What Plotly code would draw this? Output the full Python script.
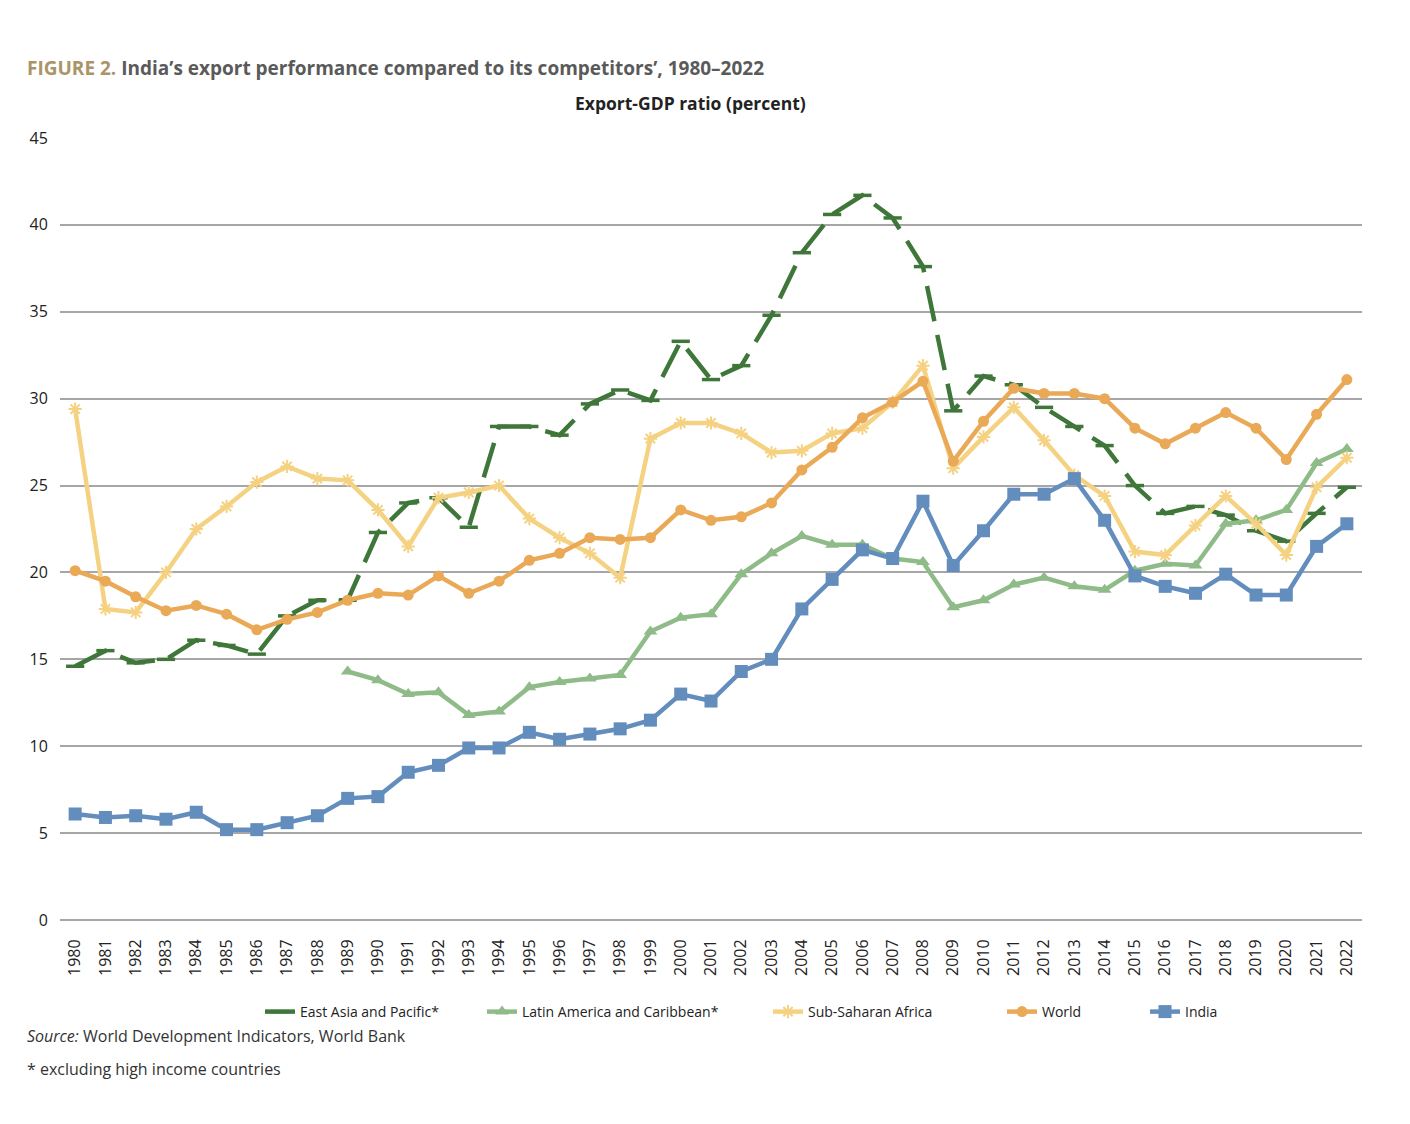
import plotly.graph_objects as go

years = list(range(1980, 2023))

india = [6.1, 5.9, 6.0, 5.8, 6.2, 5.2, 5.2, 5.6, 6.0, 7.0, 7.1, 8.5, 8.9, 9.9, 9.9,
         10.8, 10.4, 10.7, 11.0, 11.5, 13.0, 12.6, 14.3, 15.0, 17.9, 19.6, 21.3, 20.8,
         24.1, 20.4, 22.4, 24.5, 24.5, 25.4, 23.0, 19.8, 19.2, 18.8, 19.9, 18.7, 18.7,
         21.5, 22.8]

world = [20.1, 19.5, 18.6, 17.8, 18.1, 17.6, 16.7, 17.3, 17.7, 18.4, 18.8, 18.7, 19.8,
         18.8, 19.5, 20.7, 21.1, 22.0, 21.9, 22.0, 23.6, 23.0, 23.2, 24.0, 25.9, 27.2,
         28.9, 29.8, 31.0, 26.4, 28.7, 30.6, 30.3, 30.3, 30.0, 28.3, 27.4, 28.3, 29.2,
         28.3, 26.5, 29.1, 31.1]

ssa = [29.4, 17.9, 17.7, 20.0, 22.5, 23.8, 25.2, 26.1, 25.4, 25.3, 23.6, 21.5, 24.3,
       24.6, 25.0, 23.1, 22.0, 21.1, 19.7, 27.7, 28.6, 28.6, 28.0, 26.9, 27.0, 28.0,
       28.3, 29.8, 31.9, 26.0, 27.8, 29.5, 27.6, 25.6, 24.4, 21.2, 21.0, 22.7, 24.4,
       22.8, 21.0, 24.9, 26.6]

latam = [None] * 9 + [14.3, 13.8, 13.0, 13.1, 11.8, 12.0, 13.4, 13.7, 13.9, 14.1, 16.6,
                      17.4, 17.6, 19.9, 21.1, 22.1, 21.6, 21.6, 20.8, 20.6, 18.0, 18.4,
                      19.3, 19.7, 19.2, 19.0, 20.1, 20.5, 20.4, 22.8, 23.0, 23.6, 26.3,
                      27.1]

east_asia = [14.6, 15.5, 14.8, 15.0, 16.1, 15.8, 15.3, 17.5, 18.4, 18.4, 22.3, 24.0, 24.3,
             22.6, 28.4, 28.4, 27.9, 29.7, 30.5, 29.9, 33.3, 31.1, 31.9, 34.8, 38.4, 40.6,
             41.7, 40.4, 37.6, 29.3, 31.3, 30.8, 29.5, 28.4, 27.3, 25.0, 23.4, 23.8, 23.3,
             22.4, 21.8, 23.4, 24.9]

y_ticks = [0, 5, 10, 15, 20, 25, 30, 35, 40, 45]

C_EA = "#3f7639"
C_LA = "#8fbb88"
C_SSA = "#f5d282"
C_W = "#e9a957"
C_IN = "#628dbd"

# target pixel geometry of the plot area (page has an 8px body margin)
L, T, W, H = 60, 138, 1302, 782
OFF = 8


def px(x):
    return (x - L) / W


def py(y):
    return (T + H - y) / H


# legend text start positions (pixels) in the reference
leg_text_x = [300, 522, 808, 1042, 1185]
LEG_Y = 1012

fig = go.Figure()

fig.add_trace(go.Scatter(
    x=years, y=east_asia, name="East Asia and Pacific*", mode="lines+markers",
    line=dict(color=C_EA, width=4.5, dash="36px,14px"),
    marker=dict(symbol="line-ew-open", size=13, line=dict(color=C_EA, width=3.5)),
    legend="legend",
))
fig.add_trace(go.Scatter(
    x=years, y=latam, name="Latin America and Caribbean*", mode="lines+markers",
    line=dict(color=C_LA, width=4.5),
    marker=dict(symbol="triangle-up", size=12, color=C_LA),
    legend="legend2",
))
fig.add_trace(go.Scatter(
    x=years, y=ssa, name="Sub-Saharan Africa", mode="lines+markers",
    line=dict(color=C_SSA, width=4.5),
    marker=dict(symbol="asterisk-open", size=11, line=dict(color=C_SSA, width=2)),
    legend="legend3",
))
fig.add_trace(go.Scatter(
    x=years, y=world, name="World", mode="lines+markers",
    line=dict(color=C_W, width=4.5),
    marker=dict(symbol="circle", size=11, color=C_W),
    legend="legend4",
))
fig.add_trace(go.Scatter(
    x=years, y=india, name="India", mode="lines+markers",
    line=dict(color=C_IN, width=4.5),
    marker=dict(symbol="square", size=13, color=C_IN),
    legend="legend5",
))

annotations = [
    dict(text="<b><span style='color:#ab9467'>FIGURE 2.</span> "
              "<span style='color:#5a5a5a'>India’s export performance compared to its competitors’, 1980–2022</span></b>",
         x=px(25), y=py(68), xref="paper", yref="paper", xanchor="left", yanchor="middle",
         showarrow=False, font=dict(family="Open Sans", size=19)),
    dict(text="<b>Export-GDP ratio (percent)</b>",
         x=px(690), y=py(103), xref="paper", yref="paper", xanchor="center", yanchor="middle",
         showarrow=False, font=dict(family="Open Sans", size=17.5, color="#222222")),
    dict(text="<i>Source:</i> World Development Indicators, World Bank",
         x=px(25), y=py(1036), xref="paper", yref="paper", xanchor="left", yanchor="middle",
         showarrow=False, font=dict(family="Open Sans", size=16, color="#333333")),
    dict(text="* excluding high income countries",
         x=px(25), y=py(1069), xref="paper", yref="paper", xanchor="left", yanchor="middle",
         showarrow=False, font=dict(family="Open Sans", size=16, color="#333333")),
]

legend_common = dict(orientation="h", yanchor="middle", xanchor="left",
                     bgcolor="rgba(0,0,0,0)",
                     font=dict(family="Open Sans", size=14, color="#222222"))
legends = {}
for i, tx in enumerate(leg_text_x):
    key = "legend" if i == 0 else f"legend{i + 1}"
    legends[key] = dict(legend_common, x=px(tx - 40), y=py(LEG_Y))

fig.update_layout(
    width=1410, height=1124,
    margin=dict(l=L - OFF, r=1410 - (L - OFF) - W, t=T - OFF, b=1124 - (T - OFF) - H),
    paper_bgcolor="white", plot_bgcolor="white",
    showlegend=True,
    annotations=annotations,
    xaxis=dict(range=[1979.5, 2022.5], tickmode="array", tickvals=years,
               ticktext=[str(y) for y in years], tickangle=-90,
               showgrid=False, zeroline=False, showline=False,
               ticks="outside", ticklen=12, tickcolor="rgba(0,0,0,0)",
               tickfont=dict(family="Open Sans", size=16, color="#222222")),
    yaxis=dict(range=[0, 45], tickmode="array", tickvals=y_ticks,
               showgrid=True, gridcolor="#a6a6a6", gridwidth=2,
               zeroline=True, zerolinecolor="#a6a6a6", zerolinewidth=2,
               showline=False, ticks="outside", ticklen=8, tickcolor="rgba(0,0,0,0)",
               tickfont=dict(family="Open Sans", size=16, color="#222222")),
    **legends,
)

fig.write_html("out.html")
